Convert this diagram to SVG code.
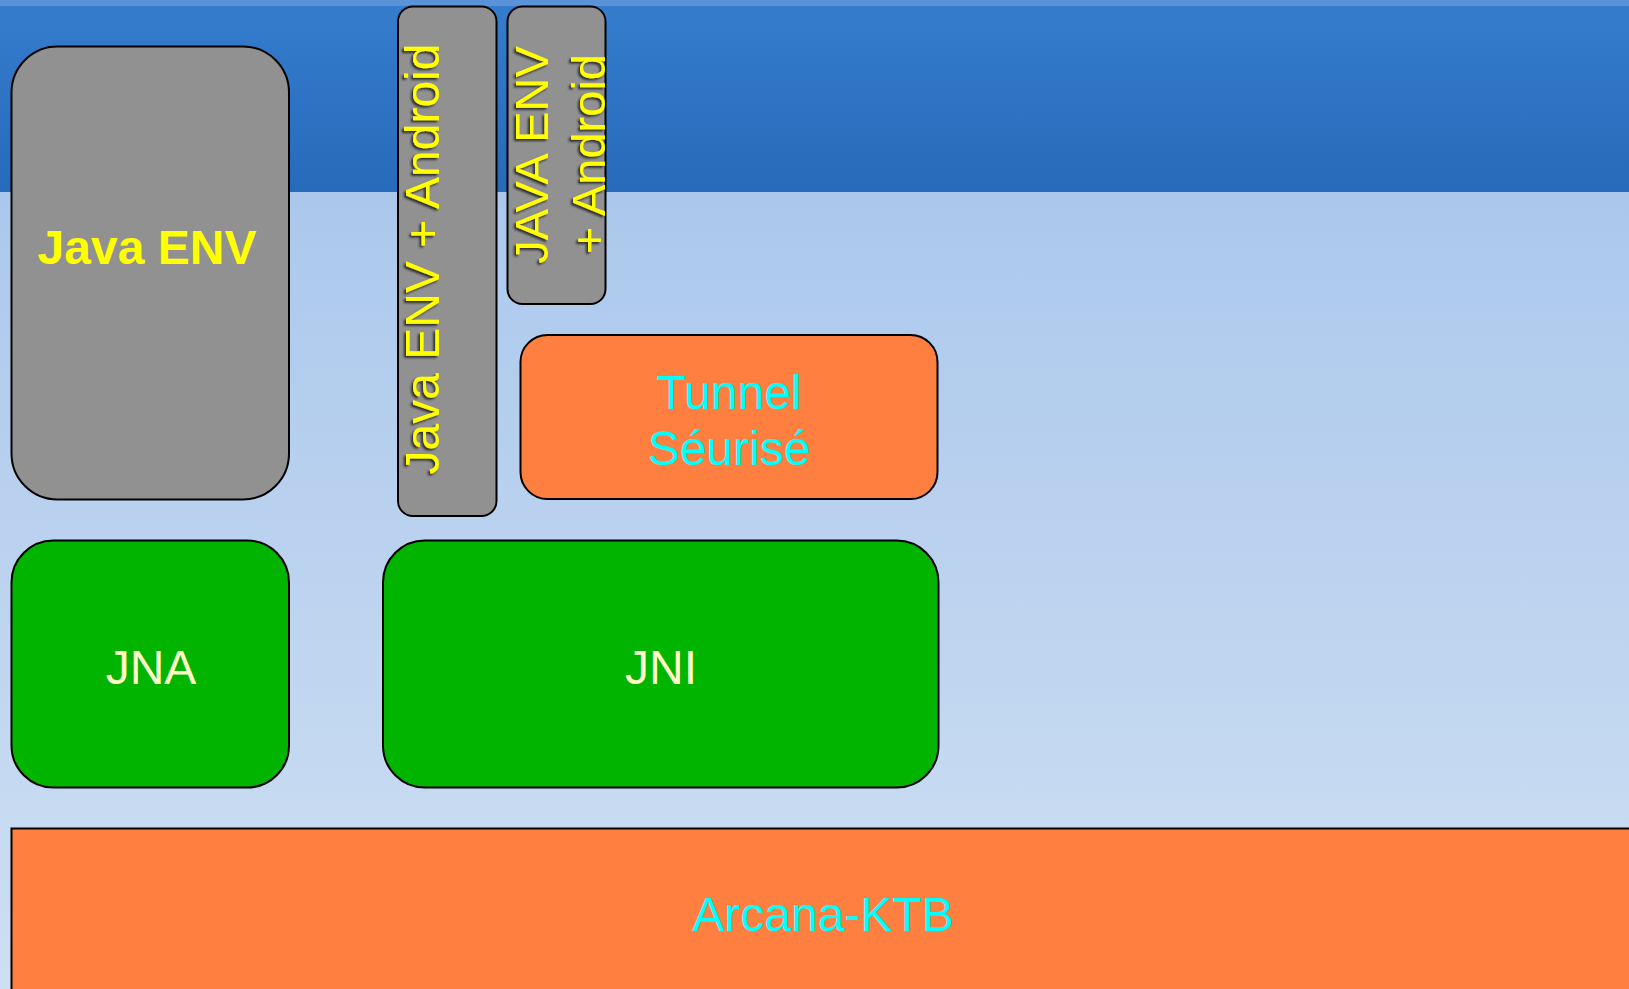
<svg xmlns="http://www.w3.org/2000/svg" width="1629" height="989" viewBox="0 0 1629 989">
  <defs>
    <linearGradient id="bgTop" x1="0" y1="0" x2="0" y2="1">
      <stop offset="0" stop-color="#357dce"/>
      <stop offset="1" stop-color="#286aba"/>
    </linearGradient>
    <linearGradient id="bgLow" x1="0" y1="0" x2="0" y2="1">
      <stop offset="0" stop-color="#abc8ec"/>
      <stop offset="1" stop-color="#cedff3"/>
    </linearGradient>
    <filter id="sh" x="-20%" y="-5%" width="140%" height="110%">
      <feDropShadow dx="-2" dy="2" stdDeviation="1" flood-color="#222" flood-opacity="0.9"/>
    </filter>
    <style>
      .box { stroke: #000; stroke-width: 2; }
      .grey { fill: #919191; }
      .orange { fill: #ff7f41; }
      .green { fill: #00b400; }
      .t { font-family: "Liberation Sans", Arial, sans-serif; font-size: 48px; text-anchor: middle; }
      .yellow { fill: #ffff00; }
      .cyan { fill: #00ffff; }
      .cream { fill: #ffffc8; }
    </style>
  </defs>

  <g id="background">
    <rect x="0" y="192" width="1629" height="797" fill="url(#bgLow)"/>
    <rect x="0" y="0" width="1629" height="192" fill="url(#bgTop)"/>
    <rect x="0" y="0" width="1629" height="6" fill="#5a93d7"/>
  </g>

  <g id="connectors"></g>

  <g id="java-env">
    <rect class="box grey" x="11.5" y="46.5" width="277.5" height="453" rx="46" ry="46"/>
    <text class="t yellow" x="147" y="264" font-weight="bold">Java ENV</text>
  </g>

  <g id="java-env-android">
    <rect class="box grey" x="398" y="6.5" width="98.5" height="509.5" rx="15" ry="15"/>
    <g filter="url(#sh)">
      <text class="t yellow" transform="translate(439 259) rotate(-90)" x="0" y="0">Java ENV + Android</text>
    </g>
  </g>

  <g id="java-env-android-2">
    <rect class="box grey" x="507.5" y="6.5" width="98" height="297.5" rx="15" ry="15"/>
    <g filter="url(#sh)">
      <text class="t yellow" transform="translate(548 155) rotate(-90)" x="0" y="0" style="font-size:47px">JAVA ENV</text>
      <text class="t yellow" transform="translate(605 154) rotate(-90)" x="0" y="0" style="font-size:47px">+ Android</text>
    </g>
  </g>

  <g id="tunnel">
    <rect class="box orange" x="520.5" y="335" width="417" height="164" rx="27" ry="27"/>
    <text class="t cyan" x="729" y="409">Tunnel</text>
    <text class="t cyan" x="729" y="465">Séurisé</text>
  </g>

  <g id="jna">
    <rect class="box green" x="11.5" y="540.5" width="277.5" height="247" rx="42" ry="42"/>
    <text class="t cream" x="151" y="684">JNA</text>
  </g>

  <g id="jni">
    <rect class="box green" x="383" y="540.5" width="555.5" height="247" rx="42" ry="42"/>
    <text class="t cream" x="661" y="684">JNI</text>
  </g>

  <g id="arcana-ktb">
    <rect class="box orange" x="11.5" y="828.5" width="1630" height="170"/>
    <text class="t cyan" x="823" y="931">Arcana-KTB</text>
  </g>
</svg>
